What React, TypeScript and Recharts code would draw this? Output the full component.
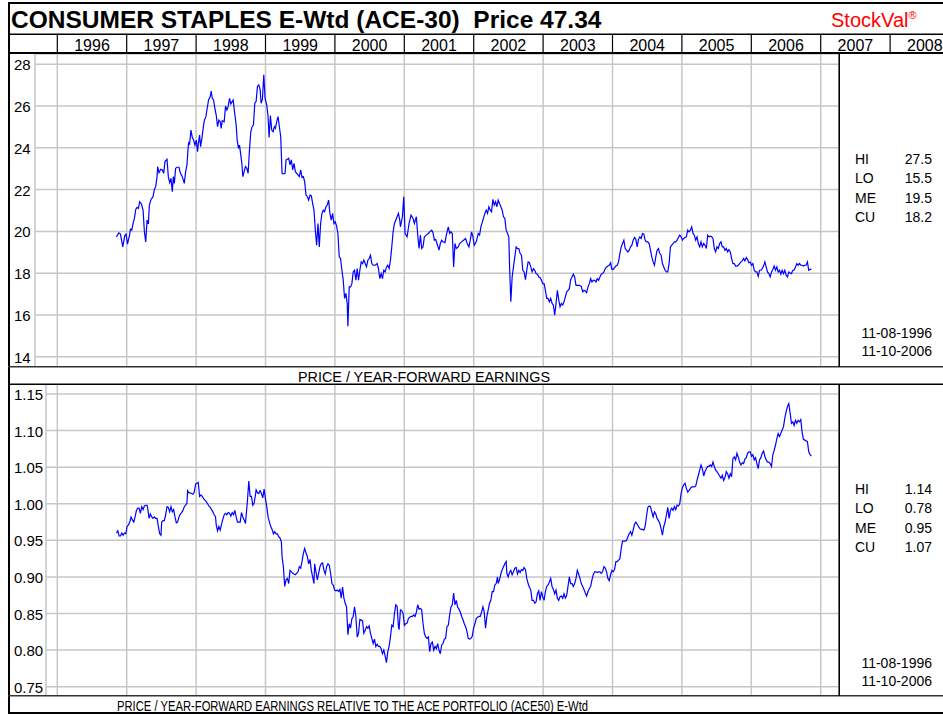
import React from "react"
import { LineChart, Line, XAxis, YAxis, CartesianGrid, ReferenceLine } from "recharts"

const TITLE = "CONSUMER STAPLES E-Wtd (ACE-30)  Price 47.34"
const UPPER_LABEL = "PRICE / YEAR-FORWARD EARNINGS"
const LOWER_LABEL = "PRICE / YEAR-FORWARD EARNINGS RELATIVE TO THE ACE PORTFOLIO (ACE50) E-Wtd"

const headerYears = [1996, 1997, 1998, 1999, 2000, 2001, 2002, 2003, 2004, 2005, 2006, 2007, 2008]
const gridYears = [1996, 1997, 1998, 1999, 2000, 2001, 2002, 2003, 2004, 2005, 2006, 2007]
const peTicks = [14, 16, 18, 20, 22, 24, 26, 28]
const relTicks = [0.75, 0.8, 0.85, 0.9, 0.95, 1.0, 1.05, 1.1, 1.15]

const statLabels = ["HI", "LO", "ME", "CU"]
const peStats = ["27.5", "15.5", "19.5", "18.2"]
const relStats = ["1.14", "0.78", "0.95", "1.07"]
const dateRange = ["11-08-1996", "11-10-2006"]

// first reading is 11-08-1996, x values are weeks after that date
const START = 1996 + 312 / 366

// [week, P/E]
const peSeries: [number, number][] = [
  [0, 19.74], [1.75, 19.93], [3, 19.87], [4.75, 19.26], [6.25, 19.8], [7.25, 19.87], [8.25, 19.39], [9.75, 19.8],
  [10.5, 20.11], [11.5, 20.06], [12.5, 20.38], [13.5, 20.62], [14.5, 21.05], [15.5, 21.15], [16.5, 21.1], [17.5, 21.42],
  [18.75, 21.31], [20, 21.02], [21, 19.98], [22, 19.5], [23, 20.54], [24, 20.35], [24.75, 21.26], [26, 21.53],
  [27.5, 21.66], [28.5, 22.01], [29.5, 22.14], [30.5, 22.62], [31, 23.1], [32, 22.81], [33.25, 22.97], [34.5, 22.94],
  [35.5, 22.78], [36.5, 23.34], [38, 23.45], [39, 22.62], [40, 22.33], [41, 22.54], [42, 21.9], [42.75, 22.62],
  [43.5, 22.3], [44.5, 23.02], [45.5, 23.07], [47, 23.07], [48, 22.81], [49.5, 22.62], [51, 22.3], [52, 22.86],
  [53, 23.18], [53.75, 23.89], [54.25, 24.24], [55, 24.18], [56, 24.85], [57, 24.5], [58, 24.37], [59, 24.13],
  [60, 24.37], [61, 23.81], [61.5, 24.18], [62.5, 24.61], [63.25, 24.05], [64.25, 24.45], [65, 24.85], [66, 25.3],
  [67.25, 25.49], [68, 25.81], [69.25, 26.29], [70.5, 26.45], [71.25, 26.72], [72, 26.37], [73, 26.29], [74, 25.89],
  [75, 25.57], [76, 25.01], [77, 25.33], [78, 25.25], [78.75, 24.93], [79.5, 25.3], [81, 25.25], [82, 26.0],
  [83, 25.81], [84, 25.97], [85, 26.37], [86, 26.1], [87, 26.21], [87.75, 26.29], [88.75, 25.73], [90, 25.09],
  [90.75, 24.37], [91.75, 23.97], [92.5, 24.13], [93.25, 23.77], [94.25, 23.26], [95, 22.62], [96, 22.86], [97, 23.1],
  [98, 23.02], [99, 22.78], [100, 23.89], [101, 24.77], [102, 25.01], [103, 25.09], [104, 26.13], [105, 26.21],
  [106, 26.93], [107, 27.01], [108, 26.8], [108.75, 26.13], [109.75, 26.32], [110.75, 27.49], [111.75, 26.37], [113, 26.05],
  [114, 25.49], [114.75, 24.5], [115.75, 25.54], [116.75, 24.85], [117.75, 24.77], [118.75, 25.01], [119.5, 24.93], [120.5, 25.25],
  [121.5, 25.49], [122.5, 25.01], [123.5, 24.53], [124.5, 22.78], [125.5, 22.75], [126.75, 22.78], [127.5, 23.42], [128.5, 23.45],
  [129.5, 23.5], [130.5, 23.18], [131.5, 23.42], [132.5, 22.94], [133.5, 23.26], [134.5, 22.86], [135.5, 22.78], [136.5, 22.7],
  [137.5, 22.62], [138.5, 22.94], [139.5, 22.59], [140.5, 22.62], [141.5, 22.38], [142.5, 21.74], [143.5, 21.66], [144.5, 21.5],
  [145.5, 21.74], [146.5, 21.71], [147.5, 21.34], [148.5, 21.02], [149.5, 20.06], [150.5, 19.34], [151.5, 20.38], [152.5, 19.26],
  [153.5, 20.38], [154.5, 20.86], [155.5, 21.02], [156.5, 20.94], [157.5, 21.18], [158.5, 21.26], [159.5, 21.5], [160.5, 20.86],
  [161.5, 20.54], [162.5, 20.86], [163.5, 20.38], [164.5, 20.46], [165.5, 20.25], [166.5, 19.9], [167.5, 18.78], [168.5, 18.7],
  [169.5, 18.14], [170.5, 17.66], [171.5, 16.79], [172.5, 17.03], [173.5, 16.55], [174, 15.46], [175, 17.34], [176, 17.34],
  [177, 17.5], [178, 18.06], [179, 18.14], [180, 17.66], [181, 18.22], [182, 17.66], [183, 18.14], [184, 18.54],
  [185, 18.46], [186, 18.62], [187, 18.46], [188, 18.3], [189, 18.62], [190, 18.7], [191, 18.86], [192, 18.46],
  [193, 18.38], [194.5, 18.38], [196, 18.46], [197, 18.22], [198, 17.74], [199, 17.98], [200, 17.74], [201, 18.14],
  [202, 18.06], [203, 18.3], [204, 18.38], [205, 18.22], [206, 18.62], [207, 19.26], [208, 19.98], [209, 20.38],
  [210.5, 20.62], [212, 20.86], [213, 20.54], [213.5, 20.22], [215, 20.7], [216, 21.66], [217, 19.9], [218.5, 19.74],
  [220, 20.38], [221.5, 20.78], [223, 20.62], [224, 20.38], [225.5, 20.7], [226.5, 19.82], [227.5, 19.18], [228.5, 19.82],
  [229.5, 19.18], [230.5, 19.26], [231.5, 19.74], [233, 19.82], [234.5, 19.9], [235.5, 19.98], [237, 20.06], [238, 19.94],
  [239, 19.58], [240, 19.62], [241, 19.42], [242.5, 19.1], [243.5, 19.42], [244.5, 19.58], [245.5, 19.5], [247, 19.46],
  [248, 19.82], [249.5, 20.22], [250.5, 19.9], [251.5, 19.98], [252.5, 19.9], [253.5, 18.3], [254.5, 19.42], [255.5, 19.18],
  [257, 19.26], [258, 19.42], [259.5, 19.5], [261, 19.58], [262.5, 19.66], [263.5, 19.46], [265, 19.26], [266, 19.58],
  [267, 19.98], [268, 19.74], [269, 19.34], [270.5, 19.5], [272, 19.9], [273, 19.82], [274, 20.22], [275.5, 20.54],
  [277, 20.86], [278, 21.02], [279, 20.86], [280, 21.18], [281, 21.02], [282, 20.94], [283, 21.53], [284, 21.26],
  [285, 21.42], [286, 21.18], [287, 21.5], [288, 21.34], [289, 21.18], [290, 21.02], [291, 20.7], [292, 20.62],
  [293, 20.06], [294, 19.9], [295, 19.74], [295.5, 18.46], [296.5, 16.63], [297.5, 17.82], [298.5, 18.3], [299.5, 18.78],
  [300.5, 19.26], [301.5, 19.18], [302.5, 19.18], [303.5, 18.94], [304.5, 18.86], [305.5, 18.14], [306.5, 18.06], [307.5, 17.69],
  [308.5, 18.14], [309.5, 18.54], [310.5, 18.5], [311.5, 18.3], [312.5, 18.06], [313.5, 18.22], [314.5, 18.14], [315.5, 17.98],
  [316.5, 17.95], [317.5, 17.82], [318.5, 17.79], [319.5, 17.66], [320.5, 17.5], [321.5, 17.5], [322.5, 17.18], [323.5, 16.79],
  [324.5, 16.79], [325.5, 16.63], [326.5, 16.79], [327.5, 16.55], [328.5, 16.47], [329.5, 15.99], [330.5, 16.55], [331.5, 17.18],
  [332.5, 16.74], [333.5, 16.39], [334.5, 16.55], [335.5, 16.47], [336.5, 16.63], [337.5, 16.87], [338.5, 17.11], [339.5, 17.18],
  [340.5, 17.26], [341.5, 17.69], [342.5, 17.82], [343.5, 17.95], [344.5, 17.82], [345.5, 17.42], [346.5, 17.42], [348, 17.42],
  [349.5, 17.37], [350.5, 17.11], [351.5, 17.18], [352.5, 17.15], [353.5, 17.07], [354.5, 17.34], [355.5, 17.5], [356.5, 17.74],
  [357.5, 17.58], [358.5, 17.66], [359.5, 17.66], [360.5, 17.58], [361.5, 17.74], [362.5, 17.66], [363.5, 17.82], [364.5, 17.95],
  [365.5, 17.98], [366.5, 18.06], [367.5, 18.22], [368.5, 18.3], [369.5, 18.34], [370.5, 18.38], [371.5, 18.5], [372.5, 18.18],
  [373.5, 18.18], [374.5, 18.27], [375.5, 18.34], [376.5, 18.38], [377.5, 18.54], [378.5, 18.94], [379.5, 19.26], [380.5, 19.42],
  [381.5, 19.58], [382.5, 19.18], [383.5, 19.1], [384.5, 19.01], [385.5, 19.1], [386.5, 19.26], [387.5, 19.34], [388.5, 19.58],
  [389.5, 19.71], [390.5, 19.62], [391.5, 19.26], [392.5, 19.62], [393.5, 19.74], [394.5, 19.66], [395.5, 19.9], [396.5, 19.87],
  [397.5, 19.58], [398.5, 19.5], [399.5, 19.5], [400.5, 19.42], [401.5, 19.1], [402.5, 18.78], [403.5, 18.54], [404.5, 18.38],
  [405.5, 18.78], [406.5, 19.1], [407.5, 19.18], [408.5, 18.94], [409.5, 18.86], [410.5, 18.46], [411.5, 18.3], [412.5, 18.14],
  [413.5, 18.06], [414.5, 18.06], [415.5, 18.46], [416.5, 19.26], [417.5, 19.34], [418.5, 19.42], [419.5, 19.5], [420.5, 19.5],
  [421.5, 19.58], [422.5, 19.71], [423.5, 19.82], [424.5, 19.74], [425.5, 19.58], [426.5, 19.66], [427.5, 19.71], [428.5, 19.74],
  [429.5, 20.06], [430.5, 19.98], [431.5, 20.06], [432.5, 20.22], [433.5, 19.9], [434.5, 19.82], [435.5, 19.58], [436.5, 19.74],
  [437.5, 19.42], [438.5, 19.26], [439.5, 19.5], [440.5, 19.26], [441.5, 19.42], [442.5, 19.34], [443.5, 19.18], [444.5, 19.82],
  [445.5, 19.74], [446.5, 19.77], [447.5, 19.74], [448.5, 19.66], [449.5, 19.18], [450.5, 19.02], [451.5, 19.26], [452.5, 19.18],
  [453.5, 19.42], [454.5, 19.5], [455.5, 19.26], [456.5, 19.26], [457.5, 19.1], [458.5, 19.18], [459.5, 19.02], [460.5, 19.13],
  [461.5, 19.02], [462.5, 18.7], [463.5, 18.46], [464.5, 18.46], [465.5, 18.34], [466.5, 18.34], [467.5, 18.38], [468.5, 18.46],
  [469.5, 18.54], [470.5, 18.59], [471.5, 18.7], [472.5, 18.59], [473.5, 18.75], [474.5, 18.65], [475.5, 18.5], [476.5, 18.53],
  [477.5, 18.38], [478.5, 18.46], [479.5, 18.14], [480.5, 18.06], [481.5, 18.06], [482.5, 17.85], [483.5, 18.14], [484.5, 18.14],
  [485.5, 18.22], [486.5, 18.34], [487.5, 18.54], [488.5, 18.3], [489.5, 18.06], [490.5, 17.98], [491.5, 17.82], [492.5, 18.06],
  [493.5, 18.18], [494.5, 18.34], [495.5, 18.14], [496.5, 18.3], [497.5, 18.06], [498.5, 18.14], [499.5, 17.95], [500.5, 18.14],
  [501.5, 17.98], [502.5, 18.14], [503.5, 17.9], [504.5, 17.82], [505.5, 18.06], [506.5, 18.01], [507.5, 17.98], [508.5, 18.14],
  [509.5, 18.14], [510.5, 18.3], [511.5, 18.46], [512.5, 18.38], [513.5, 18.46], [514.5, 18.38], [515.5, 18.38], [516.5, 18.34],
  [517.5, 18.38], [518.5, 18.38], [519.5, 18.54], [520.5, 18.14], [521.5, 18.18], [522.5, 18.19],
]

// [week, P/E relative to ACE50]
const relSeries: [number, number][] = [
  [0, 0.96], [1, 0.963], [2, 0.956], [3, 0.956], [4, 0.96], [5, 0.957], [6, 0.96], [7, 0.959],
  [8, 0.969], [9, 0.971], [10, 0.975], [11, 0.982], [12, 0.978], [13, 0.975], [14, 0.982], [15, 0.991],
  [16, 0.994], [17, 0.994], [18, 0.987], [19, 0.996], [20, 0.992], [21, 0.997], [22, 0.998], [23, 0.998],
  [23.5, 0.994], [24.5, 0.98], [25.5, 0.986], [26.5, 0.982], [27.5, 0.98], [28.5, 0.982], [29.5, 0.98], [30.5, 0.98],
  [31.5, 0.969], [32.5, 0.959], [33.5, 0.957], [34, 0.975], [35, 0.977], [36, 0.977], [37, 0.985], [38, 0.996],
  [39, 0.995], [40, 0.989], [41, 0.996], [42, 0.989], [43, 0.992], [44, 0.982], [45, 0.974], [46, 0.975],
  [47, 0.982], [48, 0.986], [49, 0.988], [50, 0.991], [51, 0.996], [52, 0.998], [53, 1.001], [53.5, 1.018],
  [54.5, 1.015], [55.5, 1.015], [56.5, 1.014], [57.5, 1.013], [58.5, 1.016], [59.5, 1.027], [60.5, 1.028], [61.5, 1.029],
  [62.5, 1.01], [63.5, 1.012], [64.5, 1.01], [65.5, 1.007], [66.5, 1.005], [67.5, 1.003], [68.5, 1.0], [69.5, 0.997],
  [70.5, 0.995], [71.5, 0.992], [72.5, 0.989], [73.5, 0.985], [74.5, 0.982], [75, 0.971], [76, 0.963], [77, 0.969],
  [78, 0.964], [79, 0.972], [80, 0.979], [81, 0.985], [82, 0.987], [83, 0.985], [84, 0.988], [85, 0.987],
  [86, 0.983], [87, 0.988], [88, 0.985], [89, 0.991], [90, 0.982], [91, 0.975], [92, 0.975], [93, 0.975],
  [94, 0.988], [95, 0.982], [96, 0.978], [97, 0.973], [98.5, 1.005], [99.5, 1.031], [100.5, 1.01], [101.5, 1.01],
  [102.5, 0.998], [103.5, 1.001], [104.5, 1.012], [105, 1.019], [106, 1.015], [107, 1.014], [108, 1.018], [109, 1.014],
  [110, 1.008], [111, 1.02], [112, 1.007], [113, 0.996], [114, 0.982], [115, 0.975], [116, 0.969], [117, 0.965],
  [118, 0.959], [119, 0.962], [120, 0.959], [121, 0.959], [122, 0.955], [123, 0.953], [124, 0.948], [124.5, 0.928],
  [125.5, 0.914], [126.5, 0.887], [127.5, 0.896], [128.5, 0.898], [129.5, 0.891], [130.5, 0.909], [131.5, 0.907], [132.5, 0.905],
  [133.5, 0.904], [134.5, 0.903], [135.5, 0.905], [136.5, 0.907], [137.5, 0.914], [138.5, 0.912], [139.5, 0.921], [140.5, 0.932],
  [141.5, 0.939], [142.5, 0.933], [143.5, 0.928], [144.5, 0.918], [145.5, 0.924], [146.5, 0.909], [147.5, 0.9], [148.5, 0.891],
  [149, 0.918], [150, 0.907], [151, 0.896], [152, 0.905], [153, 0.914], [154, 0.918], [155, 0.919], [156, 0.909],
  [157, 0.904], [158, 0.914], [159, 0.918], [160, 0.916], [161, 0.905], [162, 0.891], [163, 0.889], [164, 0.882],
  [165, 0.881], [166, 0.882], [167, 0.88], [168, 0.883], [169, 0.871], [170, 0.886], [171, 0.871], [172, 0.864],
  [173, 0.859], [174, 0.821], [175, 0.836], [176, 0.83], [177, 0.843], [178, 0.846], [179, 0.859], [180, 0.846],
  [181, 0.818], [182, 0.823], [183, 0.842], [184, 0.841], [185, 0.84], [186, 0.823], [187, 0.827], [188, 0.832],
  [189, 0.83], [190, 0.833], [191, 0.823], [192, 0.816], [193, 0.809], [194, 0.815], [195, 0.805], [196, 0.808],
  [197, 0.805], [198, 0.805], [199, 0.802], [200, 0.795], [201, 0.8], [202, 0.792], [203, 0.783], [204, 0.798],
  [205, 0.805], [206, 0.818], [207, 0.834], [208, 0.832], [209, 0.85], [210, 0.862], [211, 0.86], [212, 0.832],
  [212.5, 0.828], [213.5, 0.855], [214.5, 0.854], [215.5, 0.85], [216.5, 0.834], [217.5, 0.836], [218.5, 0.837], [219.5, 0.843],
  [220.5, 0.845], [221.5, 0.846], [222.5, 0.846], [223.5, 0.848], [224.5, 0.846], [225.5, 0.852], [226.5, 0.862], [227.5, 0.856],
  [228.5, 0.857], [229.5, 0.855], [230.5, 0.836], [231.5, 0.823], [232.5, 0.818], [233.5, 0.816], [234.5, 0.818], [235.5, 0.798],
  [236.5, 0.809], [237.5, 0.811], [238.5, 0.8], [239.5, 0.805], [240.5, 0.802], [241.5, 0.809], [242.5, 0.8], [243.5, 0.795],
  [244.5, 0.807], [245.5, 0.809], [246.5, 0.815], [247.5, 0.816], [248.5, 0.832], [249.5, 0.834], [250.5, 0.848], [251.5, 0.859],
  [252.5, 0.862], [253.5, 0.878], [254.5, 0.862], [255.5, 0.868], [256.5, 0.859], [257.5, 0.856], [258.5, 0.852], [259.5, 0.846],
  [260.5, 0.842], [261.5, 0.836], [262.5, 0.832], [263.5, 0.826], [264.5, 0.816], [265.5, 0.815], [266.5, 0.816], [267.5, 0.819],
  [268.5, 0.83], [269.5, 0.836], [270.5, 0.843], [271.5, 0.845], [272.5, 0.846], [273.5, 0.846], [274.5, 0.852], [275.5, 0.859],
  [276.5, 0.852], [277.5, 0.83], [278.5, 0.846], [279.5, 0.855], [280.5, 0.864], [281.5, 0.868], [282.5, 0.88], [283.5, 0.88],
  [284.5, 0.889], [285.5, 0.891], [286.5, 0.9], [287, 0.891], [288, 0.896], [289, 0.904], [290, 0.91], [291, 0.914],
  [292, 0.918], [293, 0.921], [293.5, 0.905], [294.5, 0.9], [295.5, 0.906], [296.5, 0.909], [297.5, 0.903], [298.5, 0.907],
  [299.5, 0.912], [300.5, 0.913], [301.5, 0.904], [302.5, 0.909], [303.5, 0.906], [304.5, 0.91], [305.5, 0.909], [306.5, 0.913],
  [307.5, 0.91], [308.5, 0.898], [309.5, 0.891], [310.5, 0.886], [311.5, 0.882], [312.5, 0.868], [313.5, 0.868], [314.5, 0.864],
  [315.5, 0.866], [316.5, 0.877], [317.5, 0.881], [318.5, 0.868], [319.5, 0.88], [320.5, 0.873], [321.5, 0.868], [322.5, 0.88],
  [323.5, 0.887], [324.5, 0.889], [325.5, 0.893], [326.5, 0.898], [327.5, 0.887], [328.5, 0.883], [329.5, 0.877], [330.5, 0.882],
  [331.5, 0.871], [332.5, 0.868], [333.5, 0.873], [334.5, 0.874], [335.5, 0.871], [336.5, 0.877], [337.5, 0.871], [338.5, 0.875],
  [339.5, 0.887], [340.5, 0.9], [341.5, 0.891], [342.5, 0.891], [343.5, 0.887], [344.5, 0.891], [345.5, 0.898], [346.5, 0.909],
  [347.5, 0.904], [348.5, 0.898], [349.5, 0.891], [350.5, 0.887], [351.5, 0.883], [352.5, 0.878], [353.5, 0.874], [354.5, 0.88],
  [355.5, 0.884], [356.5, 0.887], [357.5, 0.896], [358.5, 0.903], [359.5, 0.907], [360.5, 0.907], [361.5, 0.906], [362.5, 0.907],
  [363.5, 0.907], [364.5, 0.905], [365.5, 0.907], [366.5, 0.914], [367.5, 0.912], [368.5, 0.907], [369.5, 0.898], [370.5, 0.895],
  [371.5, 0.903], [372.5, 0.909], [373.5, 0.907], [374.5, 0.91], [375.5, 0.921], [376.5, 0.921], [377.5, 0.923], [378.5, 0.925],
  [379.5, 0.939], [380.5, 0.949], [381.5, 0.949], [382.5, 0.949], [383.5, 0.95], [384.5, 0.955], [385.5, 0.959], [386.5, 0.962],
  [387.5, 0.957], [388.5, 0.964], [389.5, 0.972], [390.5, 0.975], [391.5, 0.972], [392.5, 0.969], [393.5, 0.966], [394.5, 0.965],
  [395.5, 0.965], [396.5, 0.964], [397.5, 0.969], [398.5, 0.983], [399.5, 0.995], [400.5, 0.997], [401.5, 0.996], [402.5, 0.989],
  [403.5, 0.982], [404.5, 0.989], [405.5, 0.986], [406.5, 0.98], [407.5, 0.977], [408.5, 0.973], [409.5, 0.966], [410.5, 0.957],
  [411.5, 0.969], [412.5, 0.975], [413.5, 0.985], [414.5, 0.995], [415.5, 0.98], [416.5, 0.991], [417.5, 0.994], [418.5, 0.991],
  [419.5, 0.996], [420.5, 0.992], [421.5, 0.998], [422.5, 0.997], [423.5, 1.0], [424.5, 1.014], [425.5, 1.022], [426.5, 1.026],
  [427.5, 1.028], [428.5, 1.021], [429.5, 1.016], [430.5, 1.018], [431.5, 1.021], [432.5, 1.023], [433.5, 1.023], [434.5, 1.023],
  [435.5, 1.024], [436.5, 1.032], [437.5, 1.039], [438.5, 1.046], [439.5, 1.053], [440.5, 1.048], [441.5, 1.038], [442.5, 1.044],
  [443.5, 1.048], [444.5, 1.051], [445.5, 1.051], [446.5, 1.053], [447.5, 1.051], [448.5, 1.057], [449.5, 1.051], [450.5, 1.046],
  [451.5, 1.044], [452.5, 1.041], [453.5, 1.038], [454.5, 1.035], [455.5, 1.039], [456.5, 1.032], [457.5, 1.036], [458.5, 1.044],
  [459.5, 1.041], [460.5, 1.035], [461.5, 1.041], [462.5, 1.037], [463.5, 1.062], [464.5, 1.064], [465.5, 1.06], [466.5, 1.069],
  [467.5, 1.064], [468.5, 1.057], [469.5, 1.053], [470.5, 1.056], [471.5, 1.055], [472.5, 1.061], [473.5, 1.063], [474.5, 1.069],
  [475.5, 1.071], [476.5, 1.071], [477.5, 1.065], [478.5, 1.067], [479.5, 1.06], [480.5, 1.063], [481.5, 1.055], [482.5, 1.048],
  [483.5, 1.06], [484.5, 1.063], [485.5, 1.069], [486.5, 1.072], [487.5, 1.065], [488.5, 1.06], [489.5, 1.057], [490.5, 1.057],
  [491.5, 1.055], [492.5, 1.051], [493.5, 1.067], [494.5, 1.073], [495.5, 1.08], [496.5, 1.089], [497.5, 1.096], [498.5, 1.092],
  [499.5, 1.096], [500.5, 1.101], [501.5, 1.105], [502.5, 1.117], [503.5, 1.126], [504.5, 1.133], [505.5, 1.137], [506.5, 1.124],
  [507.5, 1.11], [508.5, 1.112], [509.5, 1.107], [510.5, 1.114], [511.5, 1.11], [512.5, 1.114], [513.5, 1.112], [514.5, 1.115],
  [515.5, 1.098], [516.5, 1.088], [517.5, 1.087], [518.5, 1.086], [519.5, 1.085], [520.5, 1.071], [521.5, 1.067], [522.5, 1.065],
]

const toRows = (series: [number, number][]) => series.map(([w, v]) => ({ t: START + (w * 7) / 365.25, v }))
const peData = toRows(peSeries)
const relData = toRows(relSeries)
const headerData = headerYears.map((y) => ({ t: y + 0.5, h: 0.5 }))

// page geometry
const FONT = "'Liberation Sans', Arial, Helvetica, sans-serif"
const YEAR_X = 57.3 // pixel where 1996 starts
const PX_YEAR = 69.4
const CHART_LEFT = 9
const PLOT_RIGHT = 839
const GRID = "#c6c6c6"
const xDomain = (left: number, right: number): [number, number] => [
  1996 - (YEAR_X - left) / PX_YEAR,
  1996 + (right - YEAR_X) / PX_YEAR,
]

const yTick = (fmt: (v: number) => string) => (props: any) => (
  <text x={5} y={props.y + 6} fontSize={15} fontFamily={FONT} fill="#000" textAnchor="start">
    {fmt(props.payload.value)}
  </text>
)

function Panel({ data, top, height, axisWidth, yDomain, ticks, fmt }: any) {
  return (
    <div style={{ position: "absolute", left: CHART_LEFT, top }}>
      <LineChart width={PLOT_RIGHT - CHART_LEFT} height={height} data={data} margin={{ top: 0, right: 0, bottom: 0, left: 0 }}>
        <CartesianGrid stroke={GRID} strokeWidth={1.5} />
        <XAxis
          type="number"
          dataKey="t"
          domain={xDomain(CHART_LEFT + axisWidth, PLOT_RIGHT)}
          allowDataOverflow
          ticks={gridYears}
          hide
        />
        <YAxis
          type="number"
          width={axisWidth}
          domain={yDomain}
          allowDataOverflow
          ticks={ticks}
          axisLine={false}
          tickLine={false}
          tick={yTick(fmt)}
        />
        <Line type="linear" dataKey="v" stroke="#0000ff" strokeWidth={1.2} dot={false} isAnimationActive={false} />
      </LineChart>
    </div>
  )
}

function YearHeader() {
  return (
    <div style={{ position: "absolute", left: CHART_LEFT, top: 34 }}>
      <LineChart width={943 - CHART_LEFT} height={19} data={headerData} margin={{ top: 0, right: 0, bottom: 0, left: 0 }}>
        <XAxis type="number" dataKey="t" domain={xDomain(CHART_LEFT, 943)} allowDataOverflow hide />
        <YAxis type="number" domain={[0, 1]} allowDataOverflow hide />
        <Line dataKey="h" stroke="none" dot={false} isAnimationActive={false} />
        {headerYears.map((y) => (
          <ReferenceLine key={"d" + y} x={y} stroke="#000" strokeWidth={1.2} ifOverflow="visible" />
        ))}
        {headerYears.map((y) => (
          <ReferenceLine
            key={"l" + y}
            x={y + 0.5}
            stroke="none"
            ifOverflow="visible"
            label={{ value: String(y), position: "insideTop", offset: 6, fill: "#000", fontSize: 16, fontFamily: FONT }}
          />
        ))}
      </LineChart>
    </div>
  )
}

function Stats({ values, top, datesTop }: { values: string[]; top: number; datesTop: number }) {
  return (
    <g fontSize={14} fill="#000">
      {statLabels.map((s, i) => (
        <g key={s}>
          <text x={855} y={top + i * 19.3}>{s}</text>
          <text x={932} y={top + i * 19.3} textAnchor="end">{values[i]}</text>
        </g>
      ))}
      {dateRange.map((d, i) => (
        <text key={d} x={932} y={datesTop + i * 18.5} textAnchor="end">{d}</text>
      ))}
    </g>
  )
}

export default function App() {
  return (
    <div style={{ position: "absolute", left: 0, top: 0, width: 943, height: 715, background: "#fff", overflow: "hidden" }}>
      <YearHeader />
      <Panel data={peData} top={54} height={313} axisWidth={26} yDomain={[13.51, 28.49]} ticks={peTicks} fmt={(v: number) => String(v)} />
      <Panel data={relData} top={384} height={312} axisWidth={37} yDomain={[0.7373, 1.1637]} ticks={relTicks} fmt={(v: number) => v.toFixed(2)} />
      <svg width={943} height={715} style={{ position: "absolute", left: 0, top: 0, pointerEvents: "none" }} fontFamily={FONT}>
        {/* frame and separators */}
        <rect x={8} y={2} width={2} height={712} fill="#000" />
        <rect x={8} y={2} width={935} height={2} fill="#000" />
        <rect x={8} y={712} width={935} height={2} fill="#000" />
        <rect x={8} y={33.5} width={935} height={1.5} fill="#000" />
        <rect x={8} y={52} width={935} height={2} fill="#000" />
        <rect x={8} y={366} width={935} height={1.5} fill="#333" />
        <rect x={8} y={383.5} width={935} height={1.5} fill="#000" />
        <rect x={8} y={695} width={935} height={1.5} fill="#333" />
        <rect x={838.5} y={54} width={1.5} height={313} fill="#000" />
        <rect x={838.5} y={384} width={1.5} height={312} fill="#000" />

        <text x={11} y={28} fontSize={24.5} fontWeight="bold" fill="#000" style={{ whiteSpace: "pre" }}>
          {TITLE}
        </text>
        <text x={831} y={26.7} fontSize={20} fill="#ff0000">
          StockVal<tspan fontSize={11} dy={-8}>®</tspan>
        </text>

        <text x={424} y={381.7} fontSize={14.5} fill="#000" textAnchor="middle" textLength={252} lengthAdjust="spacingAndGlyphs">
          {UPPER_LABEL}
        </text>
        <text x={117} y={710.7} fontSize={14.5} fill="#000" textLength={471} lengthAdjust="spacingAndGlyphs">
          {LOWER_LABEL}
        </text>

        <Stats values={peStats} top={164} datesTop={337.7} />
        <Stats values={relStats} top={494} datesTop={667.7} />
      </svg>
    </div>
  )
}
